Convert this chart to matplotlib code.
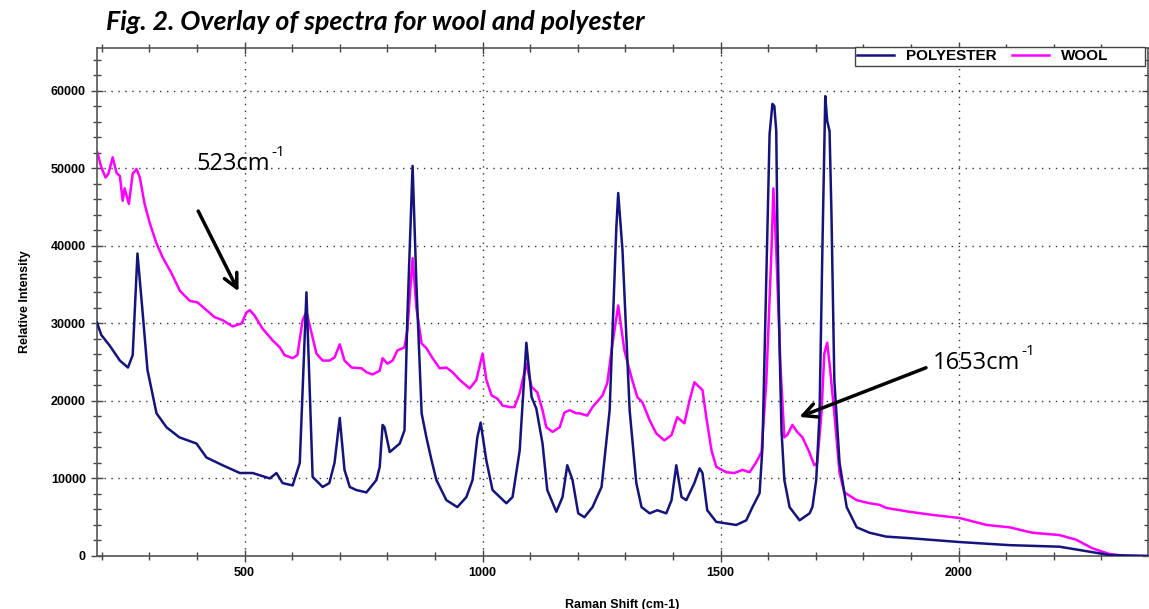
import matplotlib
matplotlib.use("Agg")
import matplotlib.pyplot as plt
from matplotlib.patches import Rectangle
from matplotlib.ticker import MultipleLocator

# polyester spectrum (Raman shift, intensity)
poly_x = [190, 199, 217, 238, 255, 265, 275, 286, 296, 315, 336, 363, 399, 420, 454, 490,
          517, 553, 567, 580, 601, 616, 630, 643, 664, 678, 689, 700, 710, 721, 735, 756,
          777, 784, 790, 794, 805, 826, 836, 842, 853, 861, 872, 882, 893, 903, 924, 947,
          966, 979, 989, 996, 1008, 1021, 1050, 1063, 1078, 1092, 1103, 1113, 1126, 1136,
          1155, 1168, 1178, 1189, 1201, 1214, 1231, 1250, 1267, 1281, 1285, 1294, 1309,
          1323, 1334, 1351, 1367, 1386, 1397, 1407, 1418, 1428, 1445, 1456, 1462, 1472,
          1491, 1512, 1533, 1554, 1567, 1582, 1588, 1596, 1603, 1609, 1613, 1617, 1619,
          1624, 1628, 1634, 1645, 1666, 1687, 1693, 1701, 1708, 1714, 1720, 1724, 1729,
          1733, 1739, 1750, 1765, 1786, 1813, 1834, 1848, 1897, 2002, 2107, 2212, 2281,
          2317, 2398]
poly_y = [30100, 28500, 27100, 25200, 24300, 25900, 39000, 31300, 24000, 18400, 16600,
          15300, 14500, 12700, 11700, 10700, 10700, 10000, 10700, 9400, 9100, 12000, 34000,
          10200, 8900, 9400, 12000, 17800, 11100, 8900, 8500, 8200, 9800, 11500, 16900,
          16600, 13400, 14500, 16200, 30800, 50300, 35100, 18400, 15300, 12300, 9800, 7200,
          6300, 7600, 9800, 15300, 17200, 12300, 8500, 6800, 7600, 13600, 27500, 20500,
          19000, 14500, 8500, 5700, 7600, 11700, 9800, 5500, 5000, 6300, 8900, 18800, 42300,
          46800, 39400, 18800, 9400, 6300, 5500, 5900, 5500, 7200, 11700, 7600, 7200, 9400,
          11300, 10700, 5900, 4400, 4200, 4000, 4600, 6300, 8100, 14000, 35500, 54400,
          58300, 58000, 54800, 44100, 26900, 16200, 9800, 6300, 4600, 5500, 6300, 9800,
          18400, 39800, 59300, 56100, 54800, 44100, 22700, 12000, 6300, 3700, 3000, 2700,
          2500, 2300, 1800, 1400, 1200, 500, 130, 0]

# wool spectrum
wool_x = [191, 199, 208, 214, 223, 231, 238, 244, 248, 257, 265, 273, 280, 290, 301, 315,
          328, 347, 364, 385, 401, 420, 437, 454, 475, 494, 504, 511, 521, 538, 559, 574,
          584, 601, 611, 622, 630, 651, 664, 679, 689, 700, 710, 725, 746, 756, 769, 784,
          790, 800, 811, 821, 836, 842, 853, 861, 872, 882, 895, 910, 924, 937, 952, 973,
          987, 1000, 1008, 1019, 1031, 1042, 1057, 1067, 1078, 1092, 1103, 1115, 1126,
          1134, 1147, 1162, 1172, 1183, 1197, 1204, 1220, 1231, 1252, 1262, 1273, 1285,
          1298, 1313, 1325, 1336, 1351, 1365, 1382, 1397, 1409, 1424, 1435, 1445, 1462,
          1470, 1481, 1491, 1512, 1529, 1546, 1561, 1575, 1586, 1596, 1607, 1611, 1617,
          1626, 1634, 1640, 1651, 1661, 1672, 1685, 1697, 1703, 1712, 1718, 1724, 1729,
          1739, 1750, 1760, 1786, 1813, 1834, 1848, 1897, 1945, 2002, 2059, 2107, 2155,
          2212, 2247, 2281, 2317, 2352, 2398]
wool_y = [52000, 50100, 48800, 49300, 51400, 49400, 49000, 45800, 47400, 45400, 49300,
          49900, 48800, 45400, 42900, 40300, 38500, 36400, 34200, 32900, 32700, 31700,
          30800, 30400, 29600, 30000, 31400, 31700, 31000, 29300, 27800, 26900, 25900,
          25500, 25900, 30400, 31500, 26100, 25200, 25200, 25600, 27300, 25200, 24300,
          24200, 23700, 23400, 23900, 25500, 24800, 25200, 26500, 26900, 29100, 38400,
          32000, 27400, 26800, 25500, 24200, 24300, 23700, 22700, 21600, 22700, 26100,
          22700, 20700, 20300, 19400, 19200, 19200, 21000, 24800, 21800, 21100, 18800,
          16600, 16000, 16600, 18500, 18800, 18400, 18400, 18100, 19200, 20700, 22300,
          27400, 32300, 26500, 23000, 20500, 19800, 17500, 15800, 14900, 15600, 17900,
          17100, 20100, 22400, 21400, 17900, 13600, 11500, 10800, 10700, 11100, 10800,
          12100, 13400, 22300, 39400, 47400, 39400, 24300, 15300, 15600, 16900, 16000,
          15300, 13600, 11700, 12000, 18400, 26100, 27500, 24800, 18400, 10700, 8200,
          7200, 6800, 6600, 6200, 5700, 5300, 4900, 4000, 3700, 3000, 2700, 2100, 1000,
          260, 0, 0]

fig = plt.figure(figsize=(11.49, 6.09), dpi=100)
ax = fig.add_axes([97 / 1149, 53 / 609, 1051 / 1149, 508 / 609])

ax.plot(poly_x, poly_y, color="#14147e", lw=1.8, label="POLYESTER", zorder=3)
ax.plot(wool_x, wool_y, color="#ff00ff", lw=1.8, label="WOOL", zorder=2)

ax.set_xlim(190, 2398)
ax.set_ylim(0, 65500)
ax.xaxis.set_major_locator(MultipleLocator(500))
ax.xaxis.set_minor_locator(MultipleLocator(100))
ax.yaxis.set_major_locator(MultipleLocator(10000))
ax.yaxis.set_minor_locator(MultipleLocator(2000))
ax.tick_params(which="major", direction="inout", length=9, width=1, color="#444444")
ax.tick_params(which="minor", direction="inout", length=6, width=1, color="#444444")
ax.tick_params(which="both", top=True, right=True)
for lab in ax.get_xticklabels() + ax.get_yticklabels():
    lab.set_fontfamily("Liberation Sans")
    lab.set_fontweight("bold")
    lab.set_fontsize(9)
for s in ax.spines.values():
    s.set_color("#555555")
    s.set_linewidth(1.2)
ax.grid(True, which="major", color="#333333", linestyle=(0, (1, 4)), linewidth=1)

ax.set_xlabel("Raman Shift (cm-1)", fontfamily="Liberation Sans", fontweight="bold",
              fontsize=9, labelpad=14)
ax.set_ylabel("Relative Intensity", fontfamily="Liberation Sans", fontweight="bold",
              fontsize=9, labelpad=14)

# legend box sits across the top frame line
ax.add_patch(Rectangle((855 / 1149, 1 - 66 / 609), 290 / 1149, 19 / 609,
                       transform=fig.transFigure, facecolor="white", clip_on=False,
                       edgecolor="#444444", linewidth=1, zorder=6))
leg = ax.legend(loc="upper left", bbox_to_anchor=(855 / 1149, 1 - 47 / 609),
                bbox_transform=fig.transFigure, ncol=2, frameon=False,
                borderpad=0.15, handlelength=2.4, handletextpad=0.8, columnspacing=1.0,
                borderaxespad=0,
                prop={"family": "Liberation Sans", "weight": "bold", "size": 11})
leg.set_zorder(7)

fig.text(106 / 1149, 1 - 22 / 609, "Fig. 2. Overlay of spectra for wool and polyester",
         fontfamily="Lato", fontweight="bold", fontstyle="italic", fontsize=19.3,
         va="center", ha="left")

# peak annotations
ax.annotate("", xy=(490, 33800), xytext=(400, 44800),
            arrowprops=dict(arrowstyle="->", color="black", lw=2.5, mutation_scale=25))
t1 = ax.text(398, 50500, "523cm", fontfamily="Open Sans", fontsize=17, va="center")
ax.annotate("-1", xy=(1, 1), xycoords=t1, xytext=(1, 5), textcoords="offset points",
            va="top", ha="left", fontfamily="Open Sans", fontsize=11)
ax.annotate("", xy=(1660, 17800), xytext=(1937, 24400),
            arrowprops=dict(arrowstyle="->", color="black", lw=2.5, mutation_scale=25))
t2 = ax.text(1945, 24900, "1653cm", fontfamily="Open Sans", fontsize=17, va="center")
ax.annotate("-1", xy=(1, 1), xycoords=t2, xytext=(1, 5), textcoords="offset points",
            va="top", ha="left", fontfamily="Open Sans", fontsize=11)

fig.savefig("out.png", dpi=100)
